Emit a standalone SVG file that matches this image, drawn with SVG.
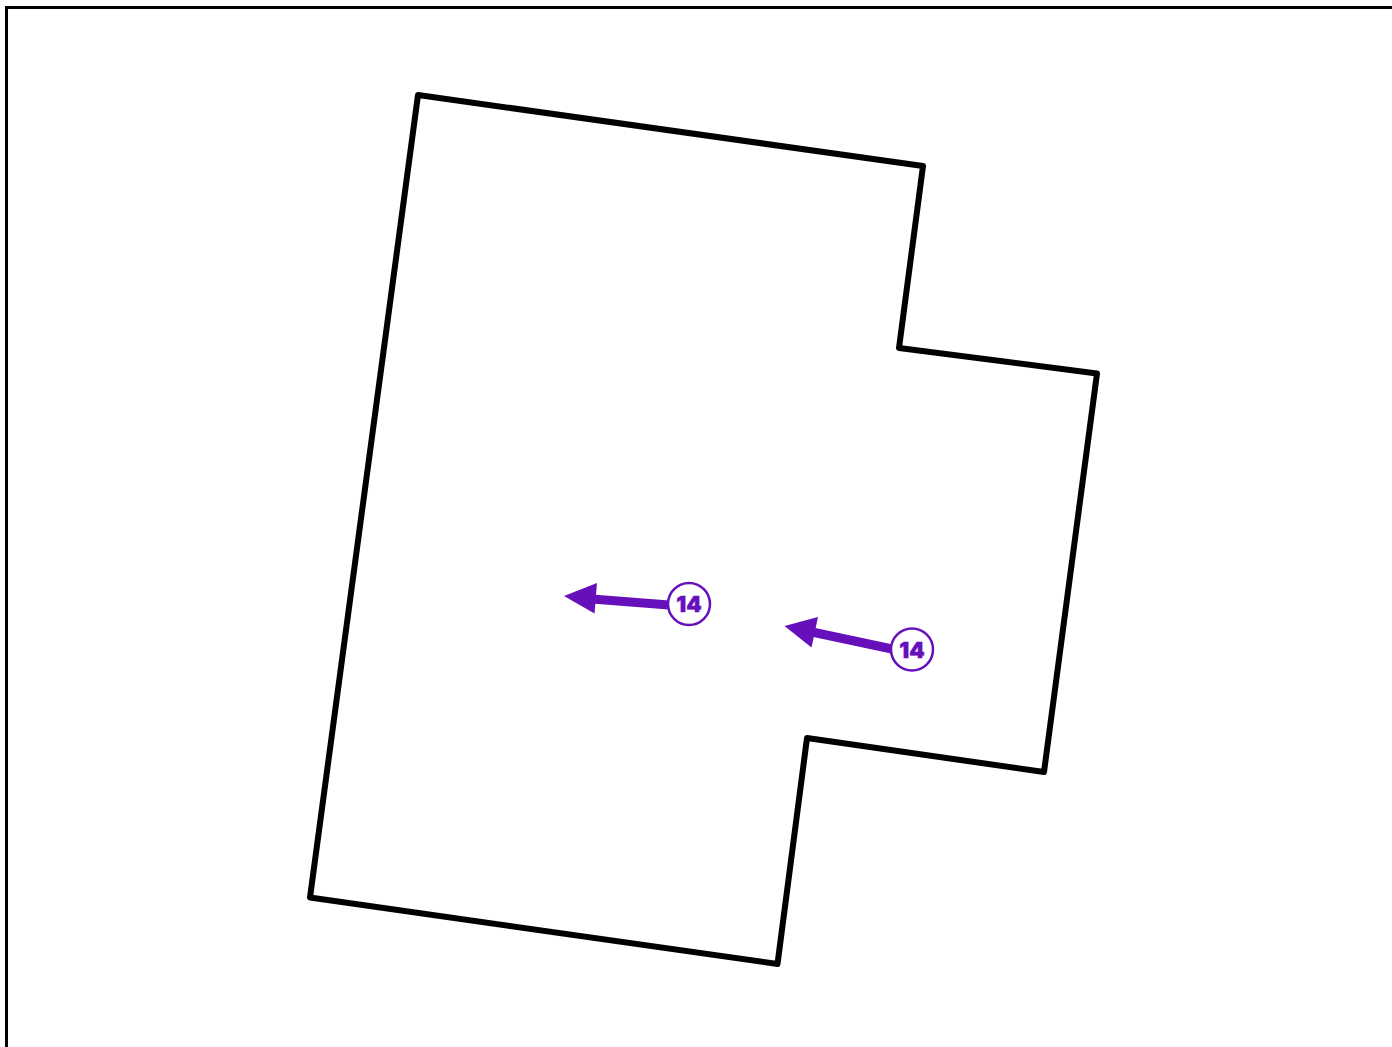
<svg xmlns="http://www.w3.org/2000/svg" width="1392" height="1047" viewBox="0 0 1392 1047">
<style>
.frame{fill:none;stroke:#000;stroke-width:3}
.wall{fill:#fff;stroke:#000;stroke-width:6;stroke-linejoin:round;stroke-linecap:round}
.shaft{fill:none;stroke:#6610bc;stroke-width:9}
.head{fill:#6610bc}
.badge{fill:#fff;stroke:#6610bc;stroke-width:2.500}
.num{font-family:"Inter","Noto Sans",sans-serif;font-weight:900;font-size:22px;fill:#6610bc;stroke:#6610bc;stroke-width:.4;text-anchor:middle}
</style>
<rect width="1392" height="1047" fill="#fff"/>
<path id="frame" class="frame" d="M6.500 1047V7.500H1392"/>
<polygon id="outline" class="wall" points="418,95 923,166 899,348 1097,373.500 1044,772 807,738 777.500,964 310,897.500"/>
<g id="connectors">
<line class="shaft" x1="592" y1="599" x2="669" y2="605"/>
<polygon class="head" points="564,596 597,583 594.500,613.500"/>
<line class="shaft" x1="812" y1="632" x2="892" y2="649"/>
<polygon class="head" points="784.500,626 818,617 811.500,647.500"/>
</g>
<g id="badge-1">
<circle class="badge" cx="689" cy="604" r="21"/>
<text class="num" x="689" y="612">14</text>
</g>
<g id="badge-2">
<circle class="badge" cx="912" cy="649.500" r="21"/>
<text class="num" x="912" y="657.500">14</text>
</g>
</svg>
